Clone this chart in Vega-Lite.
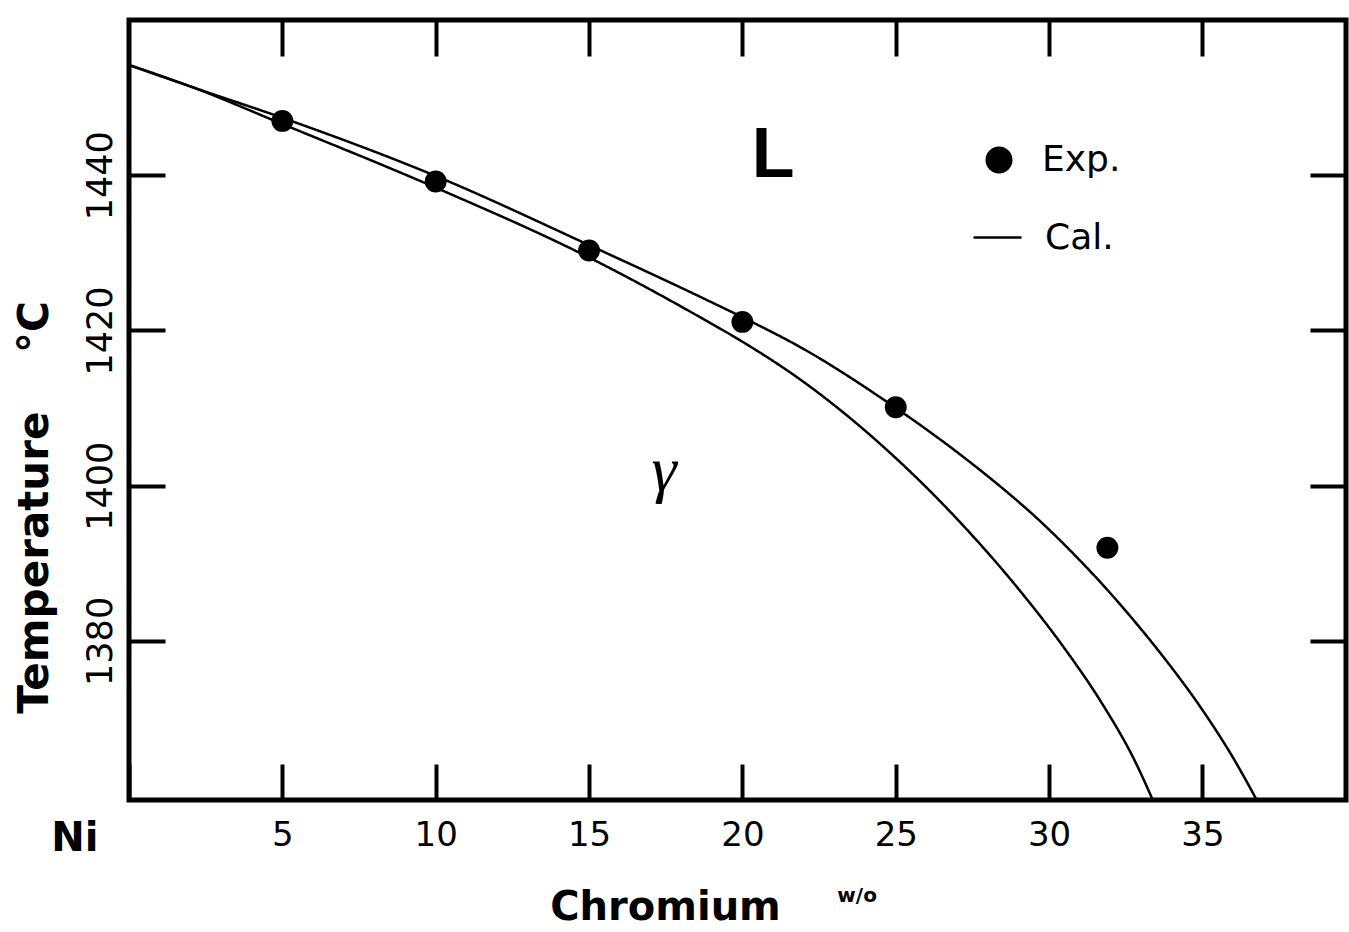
{
  "$schema": "https://vega.github.io/schema/vega-lite/v6.json",
  "autosize": {"type": "none"},
  "padding": {"left": 129, "top": 20, "right": 3, "bottom": 132},
  "width": 1217,
  "height": 780,
  "background": "white",
  "config": {
    "view": {"stroke": "black", "strokeWidth": 5},
    "axis": {"grid": false, "domain": false, "tickColor": "black", "tickWidth": 4, "labelColor": "black", "titleColor": "black"}
  },
  "resolve": {"axis": {"x": "independent", "y": "independent"}},
  "layer": [
    {
      "data": {"values": [
        {"curve": "upper", "cr": 0, "t": 1454.2},
        {"curve": "upper", "cr": 2.1, "t": 1451.3},
        {"curve": "upper", "cr": 5.0, "t": 1447.4},
        {"curve": "upper", "cr": 10.0, "t": 1439.9},
        {"curve": "upper", "cr": 15.0, "t": 1431.0},
        {"curve": "upper", "cr": 18.8, "t": 1424.0},
        {"curve": "upper", "cr": 20.0, "t": 1421.7},
        {"curve": "upper", "cr": 22.0, "t": 1417.6},
        {"curve": "upper", "cr": 24.6, "t": 1411.1},
        {"curve": "upper", "cr": 27.4, "t": 1403.1},
        {"curve": "upper", "cr": 28.5, "t": 1399.6},
        {"curve": "upper", "cr": 29.55, "t": 1396.0},
        {"curve": "upper", "cr": 30.65, "t": 1391.8},
        {"curve": "upper", "cr": 31.71, "t": 1387.4},
        {"curve": "upper", "cr": 32.77, "t": 1382.6},
        {"curve": "upper", "cr": 33.87, "t": 1377.2},
        {"curve": "upper", "cr": 34.93, "t": 1371.5},
        {"curve": "upper", "cr": 35.99, "t": 1365.0},
        {"curve": "upper", "cr": 36.77, "t": 1359.5},
        {"curve": "lower", "cr": 0, "t": 1454.2},
        {"curve": "lower", "cr": 2.1, "t": 1451.3},
        {"curve": "lower", "cr": 5.0, "t": 1446.6},
        {"curve": "lower", "cr": 10.0, "t": 1438.4},
        {"curve": "lower", "cr": 15.0, "t": 1429.4},
        {"curve": "lower", "cr": 18.8, "t": 1421.3},
        {"curve": "lower", "cr": 20.0, "t": 1418.55},
        {"curve": "lower", "cr": 22.0, "t": 1413.35},
        {"curve": "lower", "cr": 24.5, "t": 1405.35},
        {"curve": "lower", "cr": 27.0, "t": 1395.7},
        {"curve": "lower", "cr": 29.0, "t": 1386.7},
        {"curve": "lower", "cr": 30.5, "t": 1379.05},
        {"curve": "lower", "cr": 31.7, "t": 1372.1},
        {"curve": "lower", "cr": 32.8, "t": 1364.5},
        {"curve": "lower", "cr": 33.38, "t": 1359.5}
      ]},
      "mark": {"type": "line", "interpolate": "monotone", "color": "black", "strokeWidth": 2.5, "clip": true},
      "encoding": {
        "x": {
          "field": "cr", "type": "quantitative",
          "scale": {"domain": [0, 39.68], "nice": false, "zero": false},
          "axis": {
            "orient": "bottom",
            "values": [0, 5, 10, 15, 20, 25, 30, 35],
            "labelExpr": "datum.value == 0 ? 'Ni' : datum.label",
            "tickSize": -36,
            "labelPadding": 54,
            "labelFont": "DejaVu Sans",
            "labelFontSize": {"condition": {"test": "datum.value == 0", "value": 40}, "value": 34},
            "labelFontWeight": {"condition": {"test": "datum.value == 0", "value": "bold"}, "value": "normal"},
            "labelAlign": {"condition": {"test": "datum.value == 0", "value": "right"}, "value": "center"},
            "labelOffset": {"condition": {"test": "datum.value == 0", "value": -31}, "value": 0},
            "labelFlush": false,
            "labelOverlap": false,
            "title": "Chromium",
            "titleFont": "DejaVu Sans",
            "titleFontWeight": "bold",
            "titleFontSize": 40,
            "titleX": 536,
            "titleY": 107,
            "titleAlign": "center",
            "titleBaseline": "middle"
          }
        },
        "y": {
          "field": "t", "type": "quantitative",
          "scale": {"domain": [1359.5, 1460], "nice": false, "zero": false},
          "axis": {
            "orient": "left",
            "values": [1380, 1400, 1420, 1440],
            "format": "d",
            "tickSize": -36,
            "labelPadding": 54,
            "labelAngle": -90,
            "labelAlign": "center",
            "labelBaseline": "alphabetic",
            "labelFont": "DejaVu Sans",
            "labelFontSize": 35,
            "labelOverlap": false,
            "title": "Temperature\u00a0\u00a0\u00a0\u00a0°C",
            "titleFont": "DejaVu Sans",
            "titleFontWeight": "bold",
            "titleFontSize": 42,
            "titleAngle": -90,
            "titleX": -95,
            "titleY": 487,
            "titleAlign": "center",
            "titleBaseline": "middle"
          }
        },
        "detail": {"field": "curve"},
        "strokeDash": {
          "datum": "Cal.",
          "legend": {
            "orient": "none", "legendX": 843, "legendY": 192, "padding": 0, "title": null,
            "symbolType": "stroke", "symbolSize": 2304, "symbolStrokeWidth": 2.5, "symbolStrokeColor": "black",
            "labelFont": "DejaVu Sans", "labelFontSize": 36, "labelColor": "black", "labelOffset": 22
          }
        }
      }
    },
    {
      "data": {"values": [
        {"cr": 5.0, "t": 1447.0},
        {"cr": 10.0, "t": 1439.2},
        {"cr": 15.0, "t": 1430.3},
        {"cr": 20.0, "t": 1421.1},
        {"cr": 25.0, "t": 1410.1},
        {"cr": 31.9, "t": 1392.0}
      ]},
      "mark": {"type": "point", "filled": true, "color": "black", "size": 480, "opacity": 1},
      "encoding": {
        "x": {
          "field": "cr", "type": "quantitative",
          "axis": {"orient": "top", "values": [5, 10, 15, 20, 25, 30, 35], "labels": false, "tickSize": -36, "title": null}
        },
        "y": {
          "field": "t", "type": "quantitative",
          "axis": {"orient": "right", "values": [1380, 1400, 1420, 1440], "labels": false, "tickSize": -36, "title": null}
        },
        "shape": {
          "datum": "Exp.",
          "scale": {"range": ["circle"]},
          "legend": {
            "orient": "none", "legendX": 852, "legendY": 122, "padding": 0, "title": null,
            "symbolSize": 729, "symbolFillColor": "black", "symbolStrokeColor": "black", "symbolOpacity": 1,
            "labelFont": "DejaVu Sans", "labelFontSize": 36, "labelColor": "black", "labelOffset": 25
          }
        }
      }
    },
    {
      "data": {"values": [{"label": "L"}]},
      "mark": {"type": "text", "font": "Liberation Sans", "fontWeight": "bold", "fontSize": 70, "align": "center", "baseline": "alphabetic", "color": "black"},
      "encoding": {
        "x": {"datum": 21.0, "type": "quantitative", "axis": null},
        "y": {"datum": 1439.8, "type": "quantitative", "axis": null},
        "text": {"field": "label"}
      }
    },
    {
      "data": {"values": [{"label": "γ"}]},
      "mark": {"type": "text", "font": "Liberation Serif", "fontStyle": "italic", "fontSize": 64, "align": "center", "baseline": "alphabetic", "color": "black"},
      "encoding": {
        "x": {"datum": 17.45, "type": "quantitative", "axis": null},
        "y": {"datum": 1399.4, "type": "quantitative", "axis": null},
        "text": {"field": "label"}
      }
    },
    {
      "data": {"values": [{"label": "w/o"}]},
      "mark": {"type": "text", "font": "DejaVu Sans", "fontWeight": "bold", "fontSize": 20, "align": "center", "baseline": "middle", "color": "black"},
      "encoding": {
        "x": {"datum": 23.74, "type": "quantitative", "axis": null},
        "y": {"datum": 1347.1, "type": "quantitative", "axis": null},
        "text": {"field": "label"}
      }
    }
  ]
}
